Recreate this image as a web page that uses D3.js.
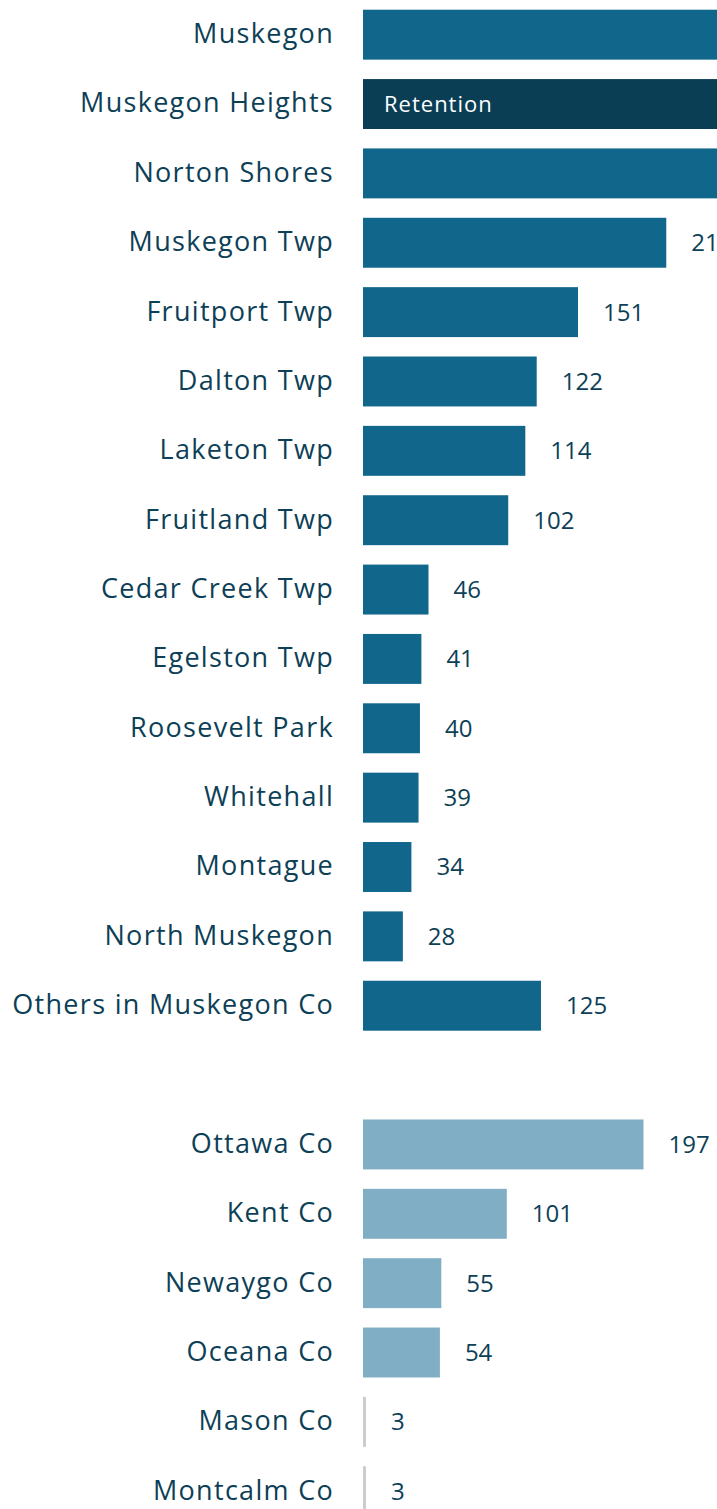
<!DOCTYPE html>
<html lang="en">
<head>
    <meta charset="UTF-8">
    <title>Muskegon area bars</title>
    <script src="https://d3js.org/d3.v7.min.js"></script>
    <style>
        html, body { margin: 0; padding: 0; background: #fff; overflow: hidden; }
        svg { display: block; font-family: "Open Sans", sans-serif; }
    </style>
</head>
<body>
    <svg id="chart"></svg>
    <script>
        const width = 717, height = 1509;

        // rows, top to bottom ("" = empty spacer row)
        const places = ["Muskegon", "Muskegon Heights", "Norton Shores", "Muskegon Twp", "Fruitport Twp",
            "Dalton Twp", "Laketon Twp", "Fruitland Twp", "Cedar Creek Twp", "Egelston Twp",
            "Roosevelt Park", "Whitehall", "Montague", "North Muskegon", "Others in Muskegon Co"];
        // first three run past the right edge, values guessed
        const placeValues = [620, 410, 330, 213, 151, 122, 114, 102, 46, 41, 40, 39, 34, 28, 125];
        const counties = ["Ottawa Co", "Kent Co", "Newaygo Co", "Oceana Co", "Mason Co", "Montcalm Co"];
        const countyValues = [197, 101, 55, 54, 3, 3];
        const highlight = "Muskegon Heights";
        const highlightText = "Retention";

        const rows = [
            ...places.map((name, i) => ({ key: name, name, value: placeValues[i], group: "muskegon" })),
            { key: "gap", name: "", value: null, group: "gap" },
            ...counties.map((name, i) => ({ key: name, name, value: countyValues[i], group: "county" }))
        ];

        const svg = d3.select("#chart").attr("width", width).attr("height", height);

        const y = d3.scaleBand()
            .domain(rows.map(d => d.key))
            .range([0, 22 * 69.36])
            .paddingInner(0.28)
            .paddingOuter(0.14);

        const x = d3.scaleLinear().domain([0, 151]).range([363, 578]);

        function barColor(d) {
            if (d.name === highlight) return "#0a3e55";
            if (d.group === "county") return d.value < 10 ? "#cccccc" : "#80aec4";
            return "#11668c";
        }

        const data = rows.filter(d => d.value !== null);
        const labelX = d => (d.value < 10 ? x(0) + 3 : x(d.value)) + 25;

        svg.selectAll("rect.bar").data(data).join("rect")
            .attr("class", "bar")
            .attr("x", x(0))
            .attr("y", d => y(d.key))
            .attr("width", d => d.value < 10 ? 3 : x(d.value) - x(0))
            .attr("height", y.bandwidth())
            .attr("fill", barColor);

        svg.selectAll("text.name").data(data).join("text")
            .attr("class", "name")
            .attr("x", 334)
            .attr("y", d => y(d.key) + y.bandwidth() / 2 - 1)
            .attr("dy", "0.35em")
            .attr("text-anchor", "end")
            .attr("font-size", 27)
            .attr("letter-spacing", 1.3)
            .attr("fill", "#0d3f57")
            .text(d => d.name);

        // value labels that start past the right edge are not visible in the original
        svg.selectAll("text.val").data(data.filter(d => labelX(d) < width)).join("text")
            .attr("class", "val")
            .attr("x", labelX)
            .attr("y", d => y(d.key) + y.bandwidth() / 2)
            .attr("dy", "0.35em")
            .attr("font-size", 24)
            .attr("fill", "#0d3f57")
            .text(d => d.value);

        svg.append("text")
            .attr("x", x(0) + 21)
            .attr("y", y(highlight) + y.bandwidth() / 2)
            .attr("dy", "0.35em")
            .attr("font-size", 22)
            .attr("letter-spacing", 1)
            .attr("fill", "#ffffff")
            .text(highlightText);
    </script>
</body>
</html>
